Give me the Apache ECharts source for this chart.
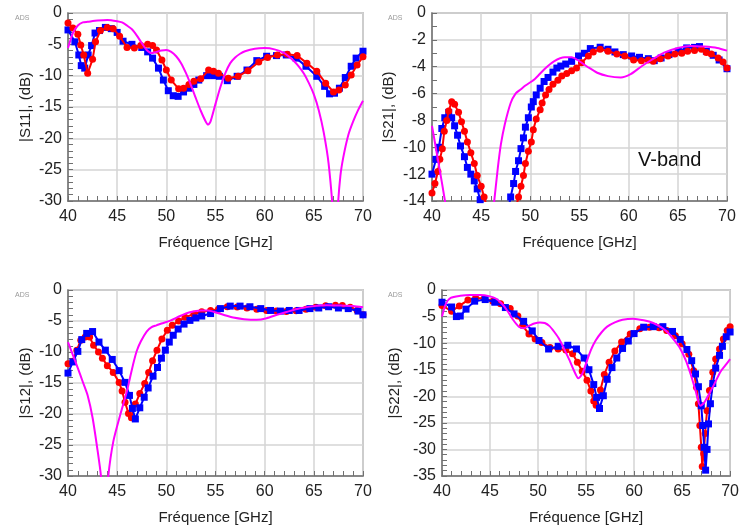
<!DOCTYPE html>
<html><head><meta charset="utf-8">
<script src="https://cdn.jsdelivr.net/npm/echarts@6/dist/echarts.min.js"></script>
<style>html,body{margin:0;padding:0;background:#fff}#c{width:742px;height:528px}</style>
</head><body><div id="c"></div>
<script>
// ---------- data (frequency in GHz, magnitude in dB) ----------
const s11BlueF = [40,40.7,41.1,41.35,41.7,42.05,42.4,42.75,43.2,43.8,44.4,45.0,45.6,46.5,47.5,48.1,48.6,49.2,49.7,50.2,50.7,51.2,51.75,52.3,52.8,53.3,54.1,54.8,55.4,56.2,57.2,58.2,59.2,60.2,61.2,62.2,63.2,64.2,65.3,66.1,66.6,67.1,67.6,68.2,68.8,69.3,70];
const s11BlueV = [-2.7,-4.6,-6.7,-8.4,-8.8,-6.7,-5.2,-3.2,-2.8,-2.3,-2.5,-3.1,-4.5,-5.0,-5.5,-6.2,-7.2,-8.8,-10.7,-12.4,-13.2,-13.3,-12.6,-12.0,-11.4,-10.7,-10.0,-10.0,-10.1,-10.8,-10.1,-9.1,-7.6,-6.9,-6.8,-6.7,-7.2,-8.5,-10.1,-11.7,-12.9,-12.8,-12.0,-10.3,-8.5,-7.2,-6.1];
const s11RedF = [40,40.5,41.0,41.3,41.6,42.0,42.5,42.8,43.3,44.0,44.6,45.25,46.0,46.75,47.4,48.1,48.6,49.0,49.55,50.0,50.5,51.25,51.75,52.3,52.8,53.5,54.3,54.8,55.3,56.3,57.3,58.3,59.4,60.3,61.3,62.3,63.3,64.3,65.3,66.2,67.0,67.55,68.2,68.8,69.4,70];
const s11RedV = [-1.6,-2.4,-3.4,-5.1,-6.7,-9.6,-7.4,-4.6,-2.8,-2.3,-2.5,-3.7,-5.5,-5.6,-5.2,-5.0,-5.2,-5.9,-7.5,-9.1,-10.7,-12.1,-12.0,-11.4,-10.9,-10.5,-9.1,-9.3,-9.6,-10.4,-10.1,-9.2,-7.8,-7.1,-6.7,-6.6,-6.8,-8.0,-9.3,-11.2,-12.6,-12.3,-11.5,-9.9,-8.3,-7.0];
const s11SimF = [40,40.5,41,41.5,42,43,44,45,45.5,46,46.5,47,47.5,48,48.5,49,49.5,50,50.5,51,51.5,52,52.5,53,53.5,54,54.25,54.5,55,55.5,56,56.5,57,57.5,58,59,60,61,62,62.5,63,63.5,64,64.5,65,65.5,66,66.5,67,67.2,67.4,67.7,68,68.5,69,69.5,70];
const s11SimV = [-5.6,-3.2,-2.0,-1.5,-1.4,-1.2,-1.1,-1.3,-1.5,-2.0,-2.6,-3.6,-4.8,-5.9,-6.4,-6.2,-6.0,-5.9,-6.2,-6.9,-8.0,-9.6,-11.5,-13.6,-15.6,-17.3,-17.8,-17.3,-14.5,-11.8,-9.6,-8.0,-7.1,-6.5,-6.1,-5.7,-5.6,-5.8,-6.4,-7.0,-7.7,-8.6,-9.7,-11.2,-13.0,-15.5,-19.0,-24.0,-33,-40,-32,-26,-23,-19.5,-17.3,-15.5,-14.0];

const s21BlueF = [40,40.4,40.7,41.0,41.3,41.7,42.0,42.3,42.6,42.9,43.3,43.6,43.95,44.3,44.6,44.9,45.5,46.3,47.2,47.7,48.0,48.3,48.5,48.8,49.05,49.3,49.5,49.8,50.1,50.3,50.6,51.0,51.4,51.8,52.3,52.7,53.1,53.6,54.2,54.9,55.5,56.1,57.1,57.9,58.6,59.45,60.3,61.1,62.0,62.6,63.3,64.1,65.05,65.9,66.7,67.2,67.9,68.6,69.2,70];
const s21BlueV = [-12.0,-10.9,-10.0,-8.6,-7.8,-7.4,-7.8,-8.4,-9.1,-9.9,-10.7,-11.5,-12.0,-12.5,-13.1,-13.9,-15.2,-17.0,-16.5,-14.8,-13.7,-12.7,-11.8,-11.0,-10.1,-9.3,-8.5,-7.8,-7.0,-6.6,-6.1,-5.6,-5.1,-4.8,-4.4,-4.1,-3.95,-3.8,-3.6,-3.2,-3.0,-2.65,-2.55,-2.7,-2.9,-3.1,-3.2,-3.3,-3.4,-3.55,-3.35,-3.1,-2.85,-2.6,-2.56,-2.5,-2.85,-3.15,-3.5,-4.15];
const s21RedF = [40,40.3,40.6,40.8,41.05,41.25,41.5,41.7,42.0,42.3,42.7,43.0,43.3,43.6,43.95,44.3,44.6,45.0,45.3,46.0,47.0,48.2,48.8,49.05,49.3,49.5,49.8,50.1,50.3,50.6,51.0,51.2,51.55,51.9,52.3,52.8,53.2,53.7,54.2,54.7,55.2,55.9,56.4,57.1,57.9,58.8,59.6,60.5,61.3,62.0,62.5,63.2,64.0,64.7,65.4,66.0,66.7,67.4,67.9,68.4,69.1,69.6,70];
const s21RedV = [-13.4,-12.7,-11.8,-10.9,-10.1,-8.8,-8.0,-7.3,-6.6,-6.8,-7.4,-8.1,-8.8,-9.6,-10.4,-11.2,-12.1,-12.9,-13.7,-15.5,-17.5,-15.5,-13.7,-12.9,-12.1,-11.2,-10.3,-9.6,-8.7,-7.9,-7.2,-6.7,-6.1,-5.7,-5.3,-5.0,-4.7,-4.5,-4.3,-4.1,-3.7,-3.2,-2.9,-2.7,-2.85,-3.05,-3.2,-3.5,-3.55,-3.5,-3.6,-3.4,-3.2,-3.05,-3.0,-2.85,-2.8,-2.7,-2.95,-3.05,-3.35,-3.65,-4.1];
// simulated transmission (same curve for S21 and S12)
const s21SimF = [40,40.5,41,41.5,42,42.5,43,43.35,43.7,44.1,44.6,45.3,46.0,46.3,46.7,47.0,47.4,48.0,48.5,49.0,49.5,50.4,51.4,52.4,53.5,54.2,54.8,55.8,56.8,57.9,59.2,60.2,61.25,62.3,63.6,65.0,66.3,67.7,69.0,70];
const s21SimV = [-8.4,-10.5,-12.6,-14.8,-17.0,-20.6,-25.8,-30,-38,-30,-24.5,-20.2,-16.3,-14.2,-11.5,-9.8,-8.3,-6.7,-6.0,-5.7,-5.4,-4.95,-4.2,-3.6,-3.3,-3.3,-3.5,-4.0,-4.45,-4.7,-4.8,-4.55,-4.0,-3.5,-2.95,-2.6,-2.45,-2.5,-2.6,-2.8];

const s12BlueF = [40,40.5,41.0,41.4,41.9,42.5,43.15,43.8,44.5,45.2,45.8,46.25,46.55,46.85,47.3,47.75,48.15,48.65,49.1,49.5,49.9,50.3,50.7,51.2,51.8,52.4,53.0,53.6,54.5,55.5,56.5,57.5,58.5,59.6,60.6,61.6,62.5,63.5,64.6,65.5,66.5,67.5,68.5,69.5,70];
const s12BlueV = [-13.4,-11.6,-9.9,-8.0,-7.0,-6.7,-8.4,-9.7,-11.2,-13.0,-14.9,-17.0,-19.1,-20.8,-19.0,-17.3,-15.8,-13.9,-12.5,-11.0,-9.7,-8.4,-7.3,-6.3,-5.5,-4.9,-4.5,-4.2,-3.8,-3.0,-2.6,-2.6,-2.7,-3.0,-3.3,-3.4,-3.3,-3.3,-3.0,-2.9,-2.7,-2.9,-3.0,-3.4,-4.0];
const s12RedF = [40,40.5,40.9,41.3,41.75,42.2,42.6,43.1,43.5,44.0,44.6,45.2,45.5,45.8,46.15,46.45,46.85,47.3,47.8,48.2,48.6,49.05,49.55,50.1,50.6,51.25,51.9,52.8,53.6,54.5,55.3,56.2,57.2,58.2,59.2,60.2,61.2,62.2,63.2,64.2,65.2,66.2,67.2,67.9,68.7,69.4,70];
const s12RedV = [-11.9,-11.5,-9.7,-8.1,-7.6,-7.6,-8.9,-10.0,-11.0,-12.2,-13.3,-14.9,-16.3,-18.1,-19.9,-20.6,-18.4,-16.7,-15.1,-13.3,-11.4,-9.7,-7.9,-6.5,-5.7,-5.0,-4.4,-3.9,-3.5,-3.3,-3.1,-2.7,-2.75,-2.9,-3.1,-3.3,-3.4,-3.45,-3.35,-3.1,-2.8,-2.55,-2.45,-2.5,-2.8,-3.3,-4.0];

const s22BlueF = [40,41.0,41.5,41.9,42.5,43.4,44.5,45.5,46.6,47.5,48.5,49.4,50.1,51.1,52.1,53.1,54.0,54.8,55.3,55.8,56.1,56.4,56.8,57.2,57.7,58.2,58.8,59.4,60.0,61.0,62.0,63.0,64.0,64.8,65.5,66.0,66.4,66.7,67.0,67.15,67.3,67.45,67.6,67.75,67.95,68.2,68.5,68.9,69.2,69.6,70];
const s22BlueV = [-2.3,-3.2,-5.0,-4.9,-3.6,-2.1,-1.8,-2.3,-3.3,-4.5,-5.9,-7.7,-9.5,-11.1,-10.6,-10.4,-11.1,-12.8,-15.0,-17.8,-20.2,-22.3,-19.9,-16.8,-14.6,-12.8,-11.0,-9.6,-8.2,-7.0,-6.9,-6.9,-7.8,-9.3,-11.2,-13.3,-15.8,-18.2,-21.8,-25.5,-29.6,-33.9,-30.0,-25.2,-21.4,-17.6,-14.7,-12.3,-10.6,-8.8,-7.9];
const s22RedF = [40,41.0,41.8,42.7,43.5,44.4,45.3,46.1,47.1,47.9,48.4,49.05,49.7,50.4,51.25,52.1,52.9,53.6,54.1,54.6,55.1,55.5,55.8,56.05,56.5,56.9,57.4,58.0,58.7,59.6,60.6,61.6,62.6,63.4,64.3,65.0,65.7,66.2,66.5,66.7,66.85,67.0,67.1,67.25,67.4,67.6,67.85,68.2,68.5,68.9,69.3,69.7,70];
const s22RedV = [-2.9,-4.0,-3.0,-1.9,-1.5,-1.6,-2.1,-2.6,-3.5,-4.9,-6.7,-8.3,-9.2,-9.9,-10.8,-11.1,-11.3,-12.0,-13.6,-15.3,-17.0,-19.0,-20.9,-21.7,-18.8,-15.9,-13.6,-11.5,-9.8,-8.3,-7.3,-7.0,-7.1,-7.6,-8.6,-10.1,-12.1,-15.2,-18.3,-21.4,-25.5,-29.6,-33.2,-30.8,-27.0,-22.7,-18.9,-15.5,-13.0,-11.1,-9.2,-7.6,-6.9];
const s22SimF = [40,40.4,40.9,41.9,42.9,44.0,45.0,45.6,46.2,46.8,47.4,48.0,48.5,49.1,49.6,50.2,50.7,51.2,51.7,52.2,52.8,53.3,53.7,54.2,54.6,55.0,55.5,56.0,56.6,57.2,58.0,58.8,59.9,61.0,62.0,62.8,63.5,64.2,64.8,65.4,65.9,66.4,66.9,67.3,67.8,68.3,69.0,69.5,70];
const s22SimV = [-5.0,-2.6,-1.5,-1.1,-0.95,-0.95,-1.2,-1.6,-2.5,-3.9,-5.6,-6.9,-7.2,-6.7,-6.3,-6.1,-6.2,-6.8,-7.9,-9.2,-11.4,-13.3,-15.0,-16.6,-15.8,-13.8,-11.3,-9.5,-8.0,-6.9,-6.1,-5.6,-5.4,-5.7,-6.2,-7.0,-8.0,-9.5,-11.0,-13.3,-15.9,-18.9,-21.8,-21.2,-19.6,-17.9,-15.4,-14.2,-13.0];

const yNames = ['|S11|, (dB)', '|S21|, (dB)', '|S12|, (dB)', '|S22|, (dB)'];
const yMins = [-30, -14, -30, -35];
const yIntervals = [5, 2, 5, 5];
const xName = 'Fréquence [GHz]';

// ---------- chart ----------
const FONT = '"Liberation Sans", Arial, sans-serif';
const grids = [
  {left: 68, top: 13, width: 295, height: 188},
  {left: 432, top: 13, width: 295, height: 188},
  {left: 68, top: 290, width: 295, height: 186},
  {left: 442, top: 290, width: 295, height: 186}
];
const yNameGaps = [35, 36, 35, 40];
const yMinorSplit = [5, 2, 5, 5];

function pairs(xs, ys) { return xs.map((x, i) => [x, ys[i]]); }

const xAxes = grids.map((g, i) => ({
  type: 'value', gridIndex: i, min: 40, max: 70, interval: 5,
  name: xName, nameLocation: 'middle', nameGap: 34,
  nameTextStyle: {fontFamily: FONT, fontSize: 15, color: '#222'},
  axisLine: {show: true, onZero: false, lineStyle: {color: '#707070', width: 1.5}},
  axisTick: {show: true, inside: true, length: 5, lineStyle: {color: '#707070'}},
  minorTick: {show: true, splitNumber: 5, length: 5, lineStyle: {color: '#707070'}},
  axisLabel: {fontFamily: FONT, fontSize: 16, color: '#222', margin: 8},
  splitLine: {show: true, lineStyle: {color: '#d4d4d4', width: 1.5}}
}));
const yAxes = grids.map((g, i) => ({
  type: 'value', gridIndex: i, min: yMins[i], max: 0, interval: yIntervals[i],
  name: yNames[i], nameLocation: 'middle', nameGap: yNameGaps[i],
  nameTextStyle: {fontFamily: FONT, fontSize: 15, color: '#222'},
  axisLine: {show: true, onZero: false, lineStyle: {color: '#707070', width: 1.5}},
  axisTick: {show: true, inside: true, length: 5, lineStyle: {color: '#707070'}},
  minorTick: {show: true, splitNumber: yMinorSplit[i], length: 5, lineStyle: {color: '#707070'}},
  axisLabel: {fontFamily: FONT, fontSize: 16, color: '#222', margin: 6},
  splitLine: {show: true, lineStyle: {color: '#d4d4d4', width: 1.5}}
}));

function meas(idx, xs, ys, color, symbol, size, z) {
  return {type: 'line', xAxisIndex: idx, yAxisIndex: idx, data: pairs(xs, ys),
    symbol: symbol, symbolSize: size, showSymbol: true, showAllSymbol: true,
    lineStyle: {color: color, width: 2}, itemStyle: {color: color}, z: z,
    clip: true, animation: false};
}
function sim(idx, xs, ys) {
  return {type: 'line', xAxisIndex: idx, yAxisIndex: idx, data: pairs(xs, ys),
    symbol: 'none', smooth: 0.25, lineStyle: {color: '#ff00ff', width: 2}, z: 5,
    clip: true, animation: false};
}

const BLUE = '#0000ff', RED = '#ff0000';
const series = [
  meas(0, s11BlueF, s11BlueV, BLUE, 'rect', 7, 2),
  meas(0, s11RedF, s11RedV, RED, 'circle', 7, 3),
  sim(0, s11SimF, s11SimV),
  meas(1, s21BlueF, s21BlueV, BLUE, 'rect', 7, 2),
  meas(1, s21RedF, s21RedV, RED, 'circle', 7, 3),
  sim(1, s21SimF, s21SimV),
  meas(2, s12RedF, s12RedV, RED, 'circle', 7, 2),
  meas(2, s12BlueF, s12BlueV, BLUE, 'rect', 7, 3),
  sim(2, s21SimF, s21SimV),
  meas(3, s22RedF, s22RedV, RED, 'circle', 7, 2),
  meas(3, s22BlueF, s22BlueV, BLUE, 'rect', 7, 3),
  sim(3, s22SimF, s22SimV)
];

const adsStyle = {text: 'ADS', fontFamily: FONT, fontSize: 7, fill: '#999'};
const chart = echarts.init(document.getElementById('c'), null, {renderer: 'canvas'});
chart.setOption({
  backgroundColor: '#fff',
  animation: false,
  grid: grids.map(g => Object.assign({show: true, borderColor: '#a0a0a0', borderWidth: 1.5, backgroundColor: '#fff'}, g)),
  xAxis: xAxes,
  yAxis: yAxes,
  series: series,
  graphic: [
    {type: 'text', left: 15, top: 15, style: adsStyle},
    {type: 'text', left: 388, top: 15, style: adsStyle},
    {type: 'text', left: 15, top: 292, style: adsStyle},
    {type: 'text', left: 388, top: 292, style: adsStyle},
    {type: 'text', left: 638, top: 150, style: {text: 'V-band', fontFamily: FONT, fontSize: 20, fill: '#111'}}
  ]
});
</script></body></html>
